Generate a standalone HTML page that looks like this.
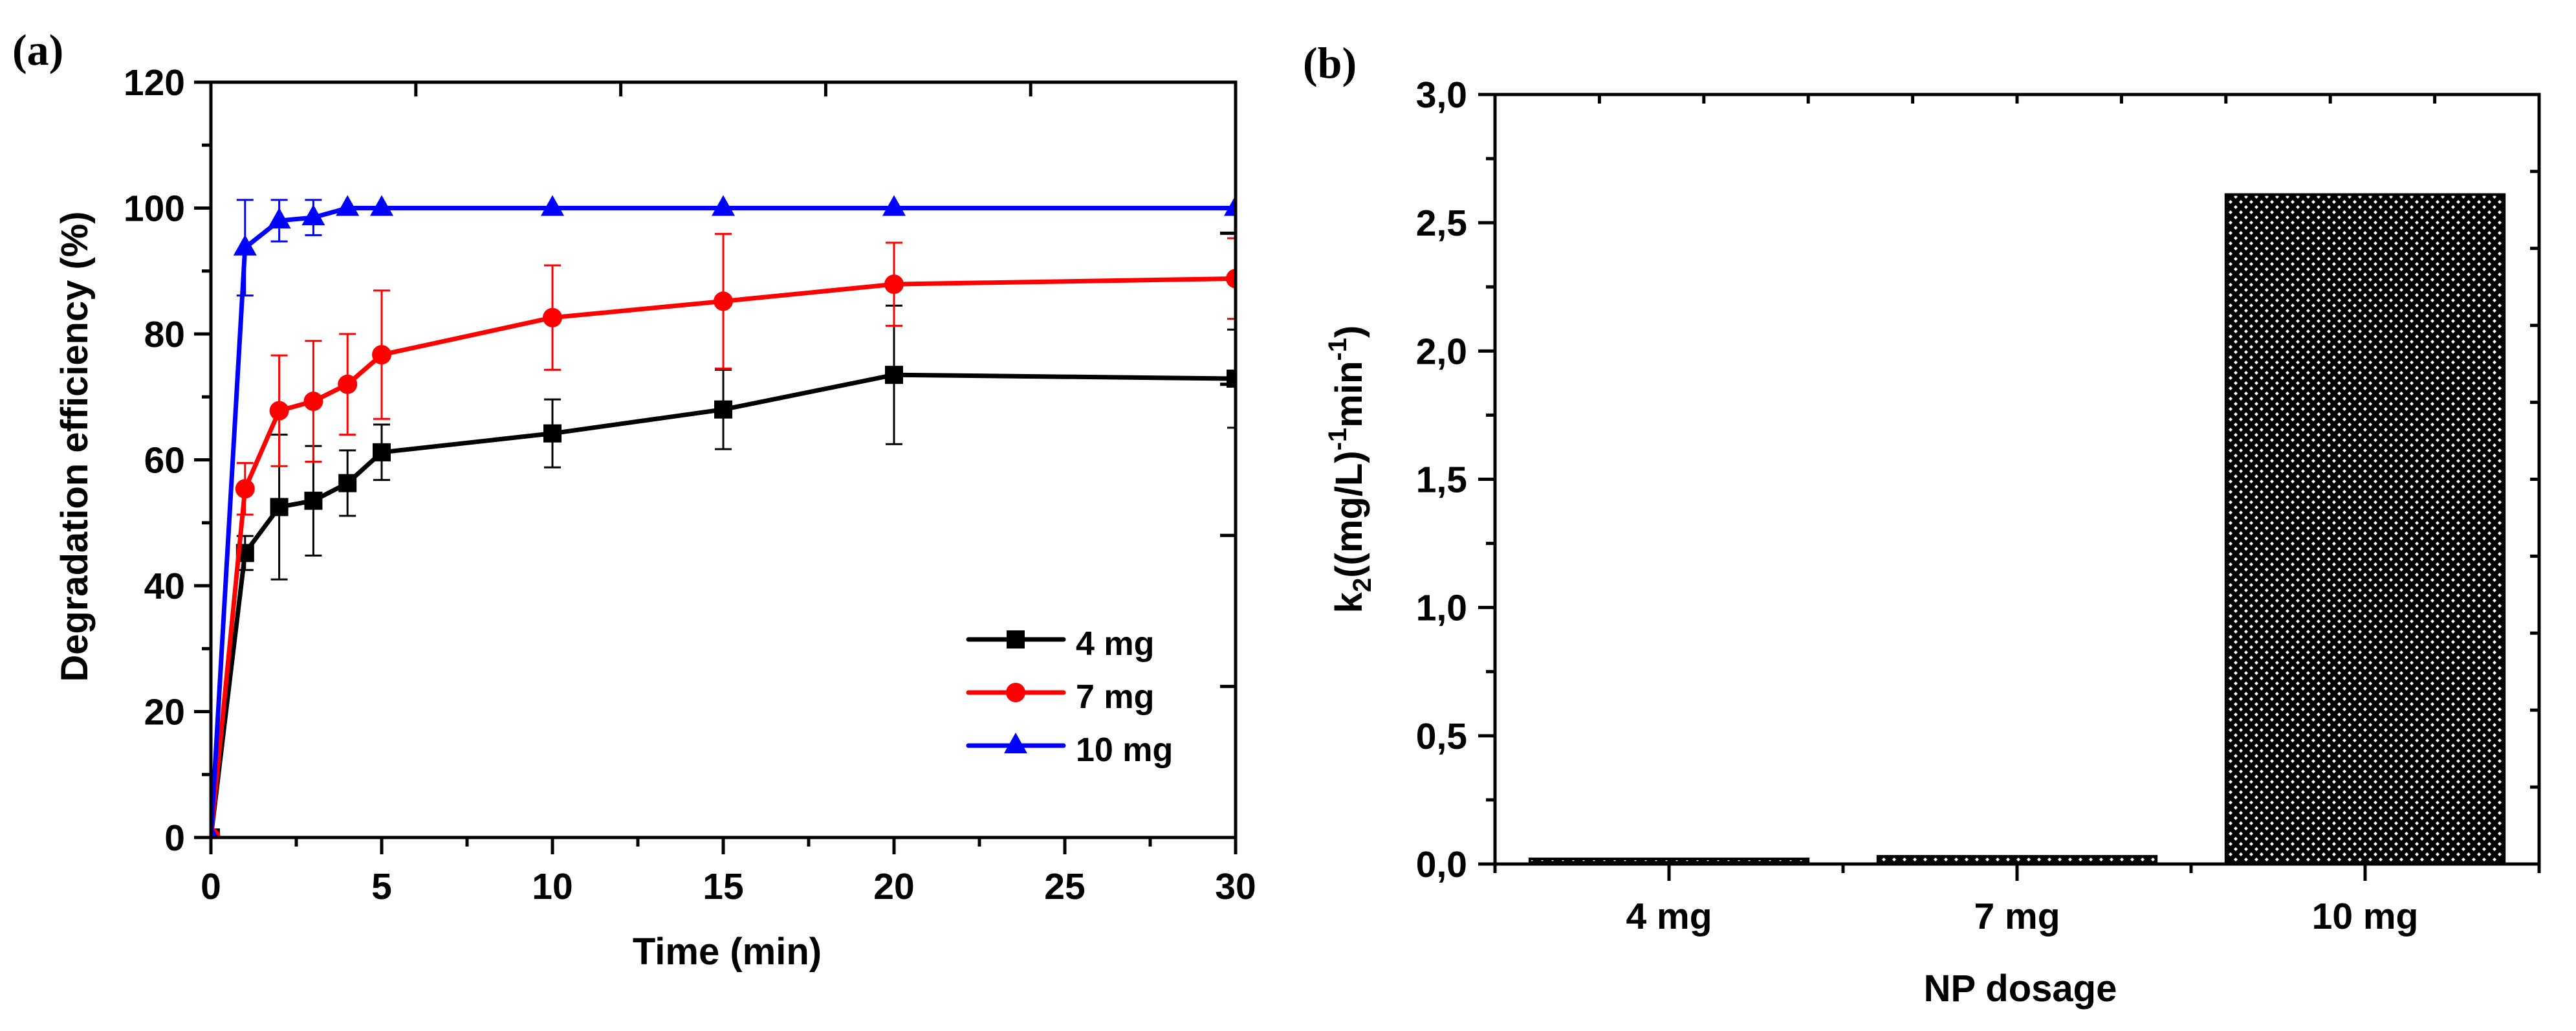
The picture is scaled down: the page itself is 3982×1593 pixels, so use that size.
<!DOCTYPE html>
<html><head><meta charset="utf-8"><style>
html,body{margin:0;padding:0;background:#fff}
svg{display:block}
text{font-family:"Liberation Sans",sans-serif;font-weight:bold;fill:#000}
</style></head><body>
<svg id="fig" width="3982" height="1593" viewBox="0 0 3982 1593" xmlns="http://www.w3.org/2000/svg">
<defs>
<pattern id="hatch" width="16" height="16" patternUnits="userSpaceOnUse">
<rect width="16" height="16" fill="#000"/>
<path d="M0,-3 L3,0 L0,3 L-3,0Z M16,-3 L19,0 L16,3 L13,0Z M0,13 L3,16 L0,19 L-3,16Z M16,13 L19,16 L16,19 L13,16Z M8,5 L11,8 L8,11 L5,8Z" fill="#fff"/>
</pattern>
</defs>
<g id="panelA"></g>
<g id="panelB"></g>
</svg>
<script>
// ---- Panel (a) data ----
const timeMin = [0, 1, 2, 3, 4, 5, 10, 15, 20, 30];
const eff4mg = [0, 45.2, 52.5, 53.5, 56.3, 61.2, 64.2, 68.0, 73.5, 72.9];
const err4mg = [0, 2.7, 11.5, 8.7, 5.2, 4.4, 5.4, 6.3, 11.0, 7.8];
const eff7mg = [0, 55.4, 67.8, 69.3, 72.0, 76.7, 82.6, 85.2, 87.9, 88.8];
const err7mg = [0, 4.1, 8.8, 9.6, 8.0, 10.2, 8.3, 10.7, 6.6, 6.4];
const eff10mg = [0, 93.7, 98.0, 98.5, 100, 100, 100, 100, 100, 100];
const err10mg = [0, 7.6, 3.3, 2.8, 0, 0, 0, 0, 0, 0];
const xTicksA = [0, 5, 10, 15, 20, 25, 30];
const yTicksA = [0, 20, 40, 60, 80, 100, 120];
const seriesNames = ["4  mg", "7 mg", "10 mg"];
// ---- Panel (b) data ----
const dosages = ["4 mg", "7 mg", "10 mg"];
const k2Values = [0.02, 0.03, 2.61];
const yTicksB = ["0,0", "0,5", "1,0", "1,5", "2,0", "2,5", "3,0"];
const yTickValsB = [0, 0.5, 1.0, 1.5, 2.0, 2.5, 3.0];

const NS = "http://www.w3.org/2000/svg";
function mk(parent, tag, attrs, txt) {
  const e = document.createElementNS(NS, tag);
  for (const k in attrs) e.setAttribute(k, attrs[k]);
  if (txt !== undefined) e.textContent = txt;
  parent.appendChild(e);
  return e;
}

// ===== Panel A =====
const A = document.getElementById('panelA');
const aL = 326, aR = 1910, aT = 127, aB = 1294;
const xMinA = 0, xMaxA = 30, yMinA = 0, yMaxA = 120;
const ax = v => aL + (v - xMinA) / (xMaxA - xMinA) * (aR - aL);
const ay = v => aB - (v - yMinA) / (yMaxA - yMinA) * (aB - aT);

// clip
const cp = mk(document.querySelector('defs'), 'clipPath', {id: 'clipA'});
mk(cp, 'rect', {x: aL, y: aT, width: aR - aL, height: aB - aT});

const colors = ["#000000", "#ff0000", "#0000ff"];
const effs = [eff4mg, eff7mg, eff10mg];
const errs = [err4mg, err7mg, err10mg];
const seriesKeys = ["4mg", "7mg", "10mg"];

function marker(g, kind, x, y, color) {
  let m;
  if (kind === 0) m = mk(g, 'rect', {x: x - 14, y: y - 14, width: 28, height: 28, fill: color});
  else if (kind === 1) m = mk(g, 'circle', {cx: x, cy: y, r: 15, fill: color});
  else m = mk(g, 'polygon', {points: `${x},${y - 20} ${x + 18},${y + 12} ${x - 18},${y + 12}`, fill: color});
  return m;
}

const dataG = mk(A, 'g', {'clip-path': 'url(#clipA)'});


for (let s = 0; s < 3; s++) {
  const g = mk(dataG, 'g', {});
  
  
  // error bars
  for (let i = 0; i < timeMin.length; i++) {
    const e = errs[s][i];
    if (!e) continue;
    const x = ax(timeMin[i]);
    const eb = mk(g, 'path', {d: `M${x},${ay(effs[s][i] + e)} V${ay(effs[s][i] - e)} M${x - 13},${ay(effs[s][i] + e)} h26 M${x - 13},${ay(effs[s][i] - e)} h26`, stroke: colors[s], 'stroke-width': 3, fill: 'none'});
    
    
  }
  const pts = timeMin.map((t, i) => ax(t) + ',' + ay(effs[s][i])).join(' ');
  const ln = mk(g, 'polyline', {points: pts, fill: 'none', stroke: colors[s], 'stroke-width': 7, 'stroke-linejoin': 'round'});
  
  
  for (let i = 0; i < timeMin.length; i++) {
    const m = marker(g, s, ax(timeMin[i]), ay(effs[s][i]), colors[s]);
    
    
  }
}

// axes frame
const frameA = mk(A, 'rect', {x: aL, y: aT, width: aR - aL, height: aB - aT, fill: 'none', stroke: '#000', 'stroke-width': 5});


// ticks
let tp = '';
for (let v = 0; v <= 30; v += 2.5) {
  const major = v % 5 === 0;
  tp += `M${ax(v)},${aB} v${major ? 26 : 14} `;
}
for (let v = 0; v <= 120; v += 10) {
  const major = v % 20 === 0;
  tp += `M${aL},${ay(v)} h${major ? -26 : -14} `;
}
for (let v = 6; v < 30; v += 6) tp += `M${ax(v)},${aT} v22 `;
for (let v = 24; v < 120; v += 24) tp += `M${aR},${ay(v)} h-24 `;
const ticksA = mk(A, 'path', {d: tp, stroke: '#000', 'stroke-width': 5, fill: 'none'});



xTicksA.forEach(v => {
  const t = mk(A, 'text', {x: ax(v), y: 1389, 'font-size': 57, 'text-anchor': 'middle'}, String(v));
  
  
});
yTicksA.forEach(v => {
  const t = mk(A, 'text', {x: 286, y: ay(v) + 20, 'font-size': 57, 'text-anchor': 'end'}, String(v));
  
  
});

// legend
const leg = mk(A, 'g', {});


const legY = [988, 1070, 1152];
for (let s = 0; s < 3; s++) {
  const eg = mk(leg, 'g', {});
  
  
  mk(eg, 'line', {x1: 1497, x2: 1644, y1: legY[s], y2: legY[s], stroke: colors[s], 'stroke-width': 7, 'stroke-linecap': 'round'});
  marker(eg, s, 1570, legY[s], colors[s]);
  mk(eg, 'text', {x: 1663, y: legY[s] + 24, 'font-size': 52, 'xml:space': 'preserve'}, seriesNames[s]);
}

const xtA = mk(A, 'text', {x: 1124, y: 1490, 'font-size': 58, 'text-anchor': 'middle'}, 'Time (min)');


const ytA = mk(A, 'text', {x: 0, y: 0, 'font-size': 58, 'text-anchor': 'middle', transform: 'translate(135,690) rotate(-90)', textLength: 727, lengthAdjust: 'spacingAndGlyphs'}, 'Degradation efficiency (%)');


const labA = mk(A, 'text', {x: 19, y: 100, 'font-size': 68, style: 'font-family:"Liberation Serif",serif'}, '(a)');



// ===== Panel B =====
const B = document.getElementById('panelB');
const bL = 2311, bR = 3925, bT = 146, bB = 1335;
const yMaxB = 3.0;
const by = v => bB - v / yMaxB * (bB - bT);
const band = (bR - bL) / dosages.length;
const bx = i => bL + band * (i + 0.5);

dosages.forEach((d, i) => {
  const w = band * 0.8;
  const r = mk(B, 'rect', {x: bx(i) - w / 2, y: by(k2Values[i]), width: w, height: bB - by(k2Values[i]), fill: 'url(#hatch)', stroke: '#000', 'stroke-width': 4});
  
  
});
const frameB = mk(B, 'rect', {x: bL, y: bT, width: bR - bL, height: bB - bT, fill: 'none', stroke: '#000', 'stroke-width': 5});


let tb = '';
for (let i = 0; i <= dosages.length; i++) tb += `M${bL + band * i},${bB} v14 `;
dosages.forEach((d, i) => { tb += `M${bx(i)},${bB} v26 `; });
for (let v = 0; v <= 3.0001; v += 0.25) {
  const major = Math.abs(v / 0.5 - Math.round(v / 0.5)) < 1e-6;
  tb += `M${bL},${by(v)} h${major ? -26 : -14} `;
}
for (let k = 1; k < 10; k++) tb += `M${bL + (bR - bL) * k / 10},${bT} v14 `;
for (let v = 0.3; v < 2.99; v += 0.3) tb += `M${bR},${by(v)} h-14 `;
const ticksB = mk(B, 'path', {d: tb, stroke: '#000', 'stroke-width': 5, fill: 'none'});



yTicksB.forEach((lab, i) => {
  const t = mk(B, 'text', {x: 2268, y: by(yTickValsB[i]) + 20, 'font-size': 57, 'text-anchor': 'end'}, lab);
  
  
});
dosages.forEach((d, i) => {
  const t = mk(B, 'text', {x: bx(i), y: 1435, 'font-size': 57, 'text-anchor': 'middle'}, d);
  
  
});
const xtB = mk(B, 'text', {x: 3123, y: 1547, 'font-size': 58, 'text-anchor': 'middle'}, 'NP dosage');


const ytB = mk(B, 'text', {x: 0, y: 0, 'font-size': 58, 'text-anchor': 'middle', transform: 'translate(2105,725) rotate(-90)'});


ytB.innerHTML = 'k<tspan dy="14" font-size="40">2</tspan><tspan dy="-14">((mg/L)</tspan><tspan dy="-24" font-size="40">-1</tspan><tspan dy="24">min</tspan><tspan dy="-24" font-size="40">-1</tspan><tspan dy="24">)</tspan>';
const labB = mk(B, 'text', {x: 2014, y: 120, 'font-size': 68, style: 'font-family:"Liberation Serif",serif'}, '(b)');


</script>
</body></html>
